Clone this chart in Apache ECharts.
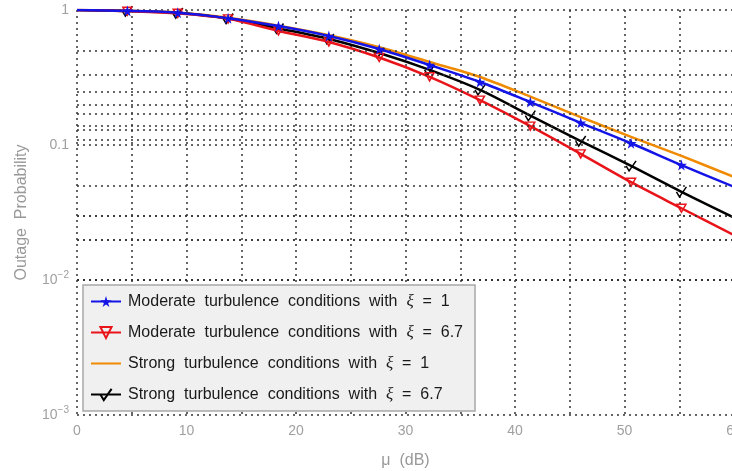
<!DOCTYPE html>
<html><head><meta charset="utf-8">
<script src="https://cdn.jsdelivr.net/npm/echarts@6/dist/echarts.min.js"></script>
<style>html,body{margin:0;padding:0;background:#fff}#c{width:732px;height:471px}</style>
</head><body><div id="c"></div><script>
// mu (dB) positions of the curve samples / markers
const muValues = [0, 4.6, 9.2, 13.8, 18.4, 23, 27.6, 32.2, 36.8, 41.4, 46, 50.6, 55.2, 60];
const moderateXi1  = [1, 0.985, 0.955, 0.87, 0.76, 0.642, 0.514, 0.391, 0.293, 0.208, 0.146, 0.103, 0.071, 0.049];
const moderateXi67 = [1, 0.98, 0.945, 0.86, 0.70, 0.58, 0.445, 0.32, 0.215, 0.138, 0.086, 0.053, 0.034, 0.0215];
const strongXi1    = [1, 0.986, 0.958, 0.875, 0.765, 0.65, 0.53, 0.412, 0.319, 0.228, 0.161, 0.115, 0.083, 0.058];
const strongXi67   = [1, 0.982, 0.95, 0.865, 0.73, 0.61, 0.48, 0.36, 0.256, 0.165, 0.107, 0.07, 0.045, 0.029];
const xTicks = [0, 10, 20, 30, 40, 50, 60];
const names = [
  'Moderate turbulence conditions with ξ = 1',
  'Moderate turbulence conditions with ξ = 6.7',
  'Strong turbulence conditions with ξ = 1',
  'Strong turbulence conditions with ξ = 6.7'
];

function build(ys, endsNone) {
  return muValues.map((x, i) => {
    const item = { value: [x, ys[i]] };
    if (endsNone && (i === 0 || i === muValues.length - 1)) item.symbol = 'none';
    return item;
  });
}
// minor horizontal grid lines (as drawn in the reference)
const minorY = [];
[1, 0.1, 0.01].forEach(top => { for (let m = 2; m <= 9; m++) minorY.push({ yAxis: top / m }); });

const dotted = { type: [2, 4], color: '#333', width: 1.5 };
const STAR = 'path://M50,0 L61,35 L98,35 L68,57 L79,91 L50,70 L21,91 L32,57 L2,35 L39,35 Z';
const TRI = 'path://M0,0 L10,0 L5,9 Z';
const CHECK = 'path://M0,5 L3,10 L10,0';
const gray = '#a0a0a0';
const near = (a, b) => Math.abs(a - b) < 1e-9 * Math.max(1, b);

const chart = echarts.init(document.getElementById('c'));
chart.setOption({
  animation: false,
  backgroundColor: '#fff',
  grid: { left: 77, top: 10, width: 657, height: 405, containLabel: false, outerBoundsMode: 'none' },
  xAxis: {
    type: 'value', min: 0, max: 60, interval: 5,
    name: 'μ  (dB)', nameLocation: 'middle', nameGap: 38,
    nameTextStyle: { color: '#999', fontSize: 16, fontFamily: 'Liberation Sans' },
    axisLine: { show: false }, axisTick: { show: false },
    axisLabel: { color: gray, fontSize: 14, margin: 9, fontFamily: 'Liberation Sans',
      formatter: v => xTicks.indexOf(v) >= 0 ? String(v) : '' },
    splitLine: { show: true, lineStyle: dotted }
  },
  yAxis: {
    type: 'log', logBase: 10, min: 0.001, max: 1,
    name: 'Outage  Probability', nameLocation: 'middle', nameGap: 47,
    nameTextStyle: { color: '#999', fontSize: 16, fontFamily: 'Liberation Sans' },
    axisLine: { show: false }, axisTick: { show: false },
    axisLabel: { color: gray, fontSize: 14, margin: 8, fontFamily: 'Liberation Sans',
      formatter: v => {
        if (near(v, 1)) return '1';
        if (near(v, 0.1)) return '0.1';
        const e = Math.round(Math.log10(v));
        return '10{sup|−' + (-e) + '}';
      },
      rich: { sup: { fontSize: 10, color: gray, padding: [0, 0, 10, 0], fontFamily: 'Liberation Sans' } }
    },
    splitLine: { show: true, lineStyle: dotted }
  },
  legend: {
    data: [names[0], names[1], { name: names[2], itemStyle: { opacity: 0 } }, names[3]],
    orient: 'vertical', left: 83, top: 285,
    backgroundColor: '#f0f0f0', borderColor: '#a8a8a8', borderWidth: 1.5, borderRadius: 0,
    padding: [8, 12, 8, 7], itemGap: 14, itemWidth: 30, itemHeight: 14,
    textStyle: { color: '#1a1a1a', fontSize: 16, fontFamily: 'Liberation Sans', padding: [0, 0, 0, 2],
      rich: { i: { fontStyle: 'italic', fontFamily: 'Liberation Serif', fontSize: 17, color: '#1a1a1a' } } },
    formatter: n => n.replace(/ /g, '  ').replace('ξ', '{i|ξ}')
  },
  series: [
    { type: 'line', name: '_grid', data: [], z: 1, silent: true,
      markLine: { silent: true, symbol: ['none', 'none'], label: { show: false }, lineStyle: dotted, data: minorY } },
    { type: 'line', name: names[2], data: build(strongXi1, false), symbol: 'none', smooth: 0.3, z: 2,
      lineStyle: { color: '#f08a00', width: 2.5 }, itemStyle: { color: '#f08a00' } },
    { type: 'line', name: names[3], data: build(strongXi67, true), symbol: CHECK, symbolSize: [10, 10], smooth: 0.3, z: 3,
      lineStyle: { color: '#000', width: 2.5 }, itemStyle: { color: 'none', borderColor: '#000', borderWidth: 1.5 } },
    { type: 'line', name: names[1], data: build(moderateXi67, true), symbol: TRI, symbolSize: [9, 8], smooth: 0.3, z: 4,
      lineStyle: { color: '#e8141a', width: 2.5 }, itemStyle: { color: 'rgba(255,255,255,0)', borderColor: '#e8141a', borderWidth: 1.5 } },
    { type: 'line', name: names[0], data: build(moderateXi1, true), symbol: STAR, symbolSize: 11, smooth: 0.3, z: 5,
      lineStyle: { color: '#1414e6', width: 2.5 }, itemStyle: { color: '#1414e6' } }
  ]
});
</script></body></html>
